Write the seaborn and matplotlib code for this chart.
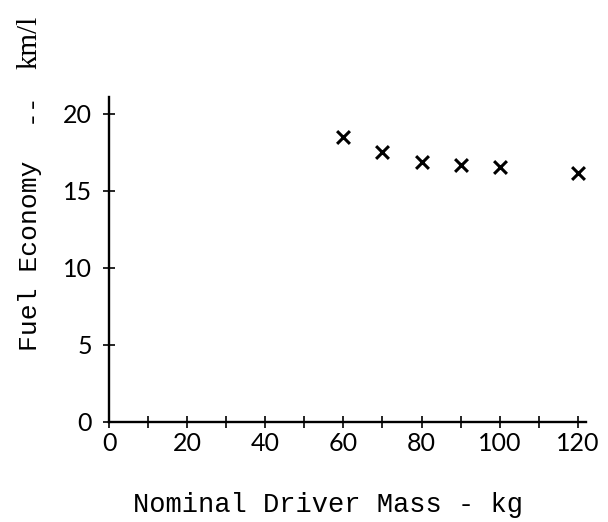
import matplotlib
matplotlib.use("Agg")
import matplotlib.pyplot as plt
import seaborn as sns
import pandas as pd
from matplotlib.ticker import MultipleLocator

# Data
driver_mass = [60, 70, 80, 90, 100, 120]
fuel_economy = [18.5, 17.55, 16.85, 16.7, 16.55, 16.15]
x_ticks = [0, 20, 40, 60, 80, 100, 120]
y_ticks = [0, 5, 10, 15, 20]

sns.set_theme(style="white")
plt.rcParams['font.family'] = ['Liberation Mono', 'DejaVu Sans']

df = pd.DataFrame({"mass": driver_mass, "economy": fuel_economy})

fig = plt.figure(figsize=(6.08, 5.22), dpi=100)
ax = fig.add_axes([0.180, 0.1916, 0.784, 0.6226])

sns.scatterplot(data=df, x="mass", y="economy", marker="x", color="black",
                s=85, linewidth=2.2, ax=ax, legend=False)

ax.set_xlim(0, 122.2)
ax.set_ylim(0, 21.1)

for s in ["top", "right"]:
    ax.spines[s].set_visible(False)
for s in ["left", "bottom"]:
    ax.spines[s].set_color("black")
    ax.spines[s].set_linewidth(1.7)

ax.set_xticks(x_ticks)
ax.set_yticks(y_ticks)
ax.xaxis.set_minor_locator(MultipleLocator(10))
ax.tick_params(axis="both", which="both", direction="inout", length=9,
               width=1.2, color="black", bottom=True, left=True)
ax.tick_params(axis="x", which="major", pad=3)
ax.tick_params(axis="y", which="major", pad=8)

tick_font = dict(family=["Lato", "DejaVu Sans"], size=18, color="black")
ax.set_xticklabels([str(v) for v in x_ticks], **tick_font)
ax.set_yticklabels([str(v) for v in y_ticks], **tick_font)

ax.set_xlabel("")
ax.set_ylabel("")
fig.text(0.539, 0.032, "Nominal Driver Mass - kg", fontsize=19.5,
         ha="center", va="center", color="black")
fig.text(0.049, 0.511, "Fuel Economy", rotation=90, fontsize=19,
         ha="center", va="center", color="black")
fig.text(0.049, 0.795, "--", rotation=90, fontsize=19,
         ha="center", va="center", color="black")
fig.text(0.049, 0.918, "km/l", rotation=90, fontsize=21,
         ha="center", va="center", color="black",
         family=["Liberation Serif", "DejaVu Serif"])

fig.savefig("out.png", dpi=100)
